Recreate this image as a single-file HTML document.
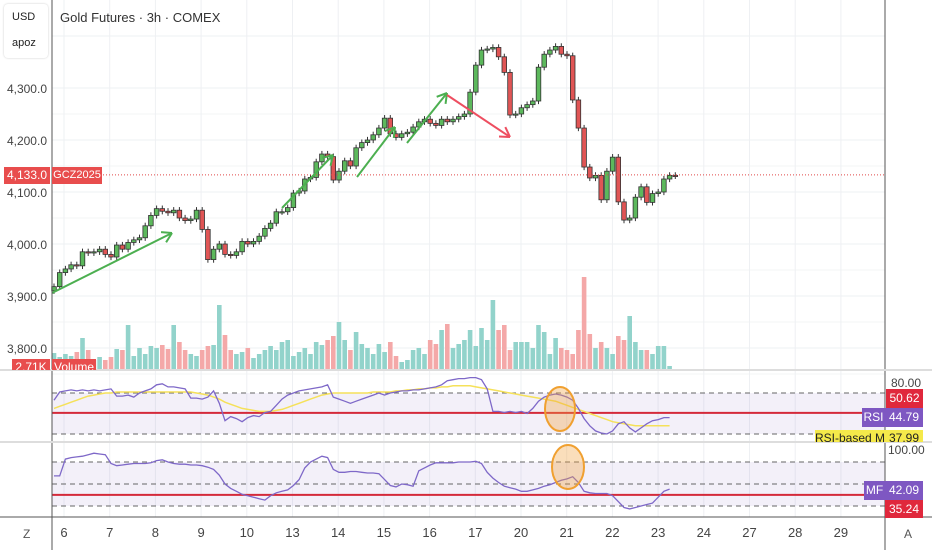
<!DOCTYPE html>
<html><head><meta charset="utf-8"><style>
body{margin:0;background:#fff;font-family:"Liberation Sans",sans-serif;}
svg{display:block}
text{font-family:"Liberation Sans",sans-serif;}
</style></head><body>
<svg id="c" width="932" height="550" viewBox="0 0 932 550">
<g id="grid"></g>
<g id="bands"></g>
<g id="vol"></g>
<g id="candles"></g>
<g id="ind"></g>
<g id="draw"></g>
<g id="axes"></g>
</svg>
<script>
const closes=[3918,3945,3952,3960,3958,3985,3983,3985,
3990,3980,3975,3998,3990,4003,4008,4012,
4035,4055,4068,4063,4060,4065,4050,4045,
4048,4065,4028,3970,3990,4000,3980,3978,
3985,4005,4000,4005,4015,4030,4040,4062,
4062,4070,4098,4102,4125,4128,4158,4173,
4168,4123,4140,4160,4150,4185,4195,4200,
4210,4223,4242,4212,4205,4212,4215,4225,
4235,4240,4232,4228,4240,4235,4240,4245,
4250,4292,4344,4373,4375,4378,4360,4330,
4248,4250,4262,4268,4275,4340,4365,4373,
4380,4365,4362,4277,4223,4148,4127,4132,
4085,4140,4167,4081,4046,4050,4090,4110,
4080,4097,4100,4125,4132,4131];
const volumes=[17,13,16,14,18,32,20,10,13,10,13,21,20,45,14,22,16,24,22,25,21,45,28,20,16,14,20,24,25,65,35,20,16,18,22,12,16,20,24,20,28,30,14,18,22,16,28,25,30,34,48,30,20,38,26,22,16,26,18,28,14,8,10,20,22,16,30,26,40,46,22,26,30,40,24,42,30,70,40,45,20,28,28,28,22,45,38,16,32,22,20,16,40,93,36,22,28,22,16,34,30,54,28,20,20,16,24,24,4];
const rsi=[63,71,72,73,72,73,72,73,72,73,74,67,67,68,66,70,72,74,78,79,76,76,75,74,65,65,64,66,72,60,43,47,45,42,46,48,47,51,52,58,64,68,70,72,73,74,75,76,78,66,64,62,60,62,64,66,68,70,68,70,71,72,72,73,73,74,75,76,78,82,83,84,84,85,85,83,74,52,52,51,52,51,52,50,55,62,66,68,69,68,66,63,55,45,38,33,31,30,33,40,42,36,32,36,40,43,44,46,46];
const rsiMa=[55,57,59,61,63,65,67,68,69,70,70,71,71,71,71,71,71,71,71,71,71,71,71,71,71,70,69,68,66,64,61,59,57,55,54,53,52,52,52,53,54,56,58,60,62,64,66,68,69,70,70,70,70,70,70,70,71,71,71,71,72,72,73,73,74,74,75,75,76,76,77,77,77,77,76,75,74,73,72,71,70,69,68,67,66,65,64,63,62,60,58,56,54,52,50,48,46,44,42,41,40,39,38,38,38,38,38,38,38];
const mf=[61,61,84,86,87,88,90,92,91,90,78,75,76,77,78,78,78,79,82,83,80,78,77,77,76,76,75,73,70,62,50,44,40,36,34,32,30,28,34,38,40,42,48,56,72,80,84,88,86,70,66,66,67,67,66,65,65,64,56,48,46,50,49,47,68,72,76,79,79,79,79,80,80,80,81,78,66,58,52,47,45,43,40,40,42,44,47,49,52,55,57,60,52,40,38,37,37,37,34,26,18,16,18,20,22,24,32,40,43];
const priceTicks=[4300,4200,4100,4000,3900,3800];
const priceLabels=["4,300.0","4,200.0","4,100.0","4,000.0","3,900.0","3,800.0"];
const dayLabels=["6","7","8","9","10","13","14","15","16","17","20","21","22","23","24","27","28","29"];
const lastPrice=4133;

const NS="http://www.w3.org/2000/svg";
function el(p,t,a,txt){const e=document.createElementNS(NS,t);for(const k in a)e.setAttribute(k,a[k]);if(txt!==undefined)e.textContent=txt;document.getElementById(p).appendChild(e);return e;}
const X0=52,X1=885;
const bx=i=>54+i*5.7;
const py=p=>88+(4300-p)*0.52;
const ry=v=>434-(v-30)*1.025;
const my=v=>506-(v-20)*0.733;
const dx=i=>64+i*45.7;

priceTicks.forEach(p=>{const l=el('grid','line',{x1:X0,x2:X1,y1:py(p),y2:py(p),stroke:'#eef0f3'});


const m=el('grid','line',{x1:X0,x2:X1,y1:py(p)+26,y2:py(p)+26,stroke:'#f3f4f6'});

});
el('grid','line',{x1:X0,x2:X1,y1:36,y2:36,stroke:'#eef0f3'});
dayLabels.forEach((d,i)=>{const l=el('grid','line',{x1:dx(i),x2:dx(i),y1:0,y2:517,stroke:'#eef0f3'});

});
el('bands','rect',{x:X0,y:ry(70),width:X1-X0,height:ry(30)-ry(70),fill:'rgba(126,87,194,0.09)'});
el('bands','rect',{x:X0,y:my(80),width:X1-X0,height:my(20)-my(80),fill:'rgba(126,87,194,0.09)'});
[[ry(70)],[ry(30)],[my(80)],[my(50)],[my(20)]].forEach(([y])=>{const l=el('bands','line',{x1:X0,x2:X1,y1:y,y2:y,stroke:'#666','stroke-dasharray':'5,4','stroke-width':1});

});
const vmax=Math.max(...volumes);
volumes.forEach((v,i)=>{const up=i===0||closes[i]>=closes[i-1];const h=v/vmax*93;
const r=el('vol','rect',{x:bx(i)-2.3,y:370-h,width:4.6,height:h,fill:up?'#92d3cb':'#f4a8a8'});

});
closes.forEach((c,i)=>{const o=i===0?c-8:closes[i-1];const up=c>=o;const hi=Math.max(o,c)+6,lo=Math.min(o,c)-6;
const w=el('candles','line',{x1:bx(i),x2:bx(i),y1:py(hi),y2:py(lo),stroke:'#333','stroke-width':1});


const top=py(Math.max(o,c)),hh=Math.max(1.2,py(Math.min(o,c))-top);
const b=el('candles','rect',{x:bx(i)-2.3,y:top,width:4.6,height:hh,fill:up?'#5cb85c':'#e05555',stroke:'#333','stroke-width':0.8});

});
el('candles','line',{x1:X0,x2:X1,y1:py(lastPrice),y2:py(lastPrice),stroke:'#e04848','stroke-dasharray':'1,2','stroke-width':1});
const pl=(arr,f)=>arr.map((v,i)=>bx(i).toFixed(1)+','+f(v).toFixed(1)).join(' ');
el('ind','line',{x1:X0,x2:X1,y1:ry(50.62),y2:ry(50.62),stroke:'#d42a3a','stroke-width':2});
el('ind','line',{x1:X0,x2:X1,y1:my(35.24),y2:my(35.24),stroke:'#d42a3a','stroke-width':2});
const ma=el('ind','polyline',{points:pl(rsiMa,ry),fill:'none',stroke:'#f5e15a','stroke-width':1.5});


const rl=el('ind','polyline',{points:pl(rsi,ry),fill:'none',stroke:'#7e68c8','stroke-width':1.3});


const ml=el('ind','polyline',{points:pl(mf,my),fill:'none',stroke:'#7e68c8','stroke-width':1.3});


const arrows=[[52,293,172,233,'#4caf50'],[282,208,333,155,'#4caf50'],[357,177,395,127,'#4caf50'],[407,143,447,93,'#4caf50'],[447,95,510,137,'#ee4e60']];
arrows.forEach(a=>{const [x1,y1,x2,y2,c]=a;const l=el('draw','line',{x1,y1,x2,y2,stroke:c,'stroke-width':2});


const ang=Math.atan2(y2-y1,x2-x1);const L=11;
[ang+2.6,ang-2.6].forEach(t=>{el('draw','line',{x1:x2,y1:y2,x2:x2+L*Math.cos(t),y2:y2+L*Math.sin(t),stroke:c,'stroke-width':2});});});
[[560,409,15,22],[568,467,16,22]].forEach(e=>{const o=el('draw','ellipse',{cx:e[0],cy:e[1],rx:e[2],ry:e[3],fill:'rgba(240,160,60,0.35)',stroke:'#f0a030','stroke-width':2});

});
el('axes','line',{x1:X0,x2:X0,y1:0,y2:550,stroke:'#555'});
el('axes','line',{x1:X1,x2:X1,y1:0,y2:550,stroke:'#555'});
el('axes','line',{x1:0,x2:932,y1:370,y2:370,stroke:'#ddd','stroke-width':2});
el('axes','line',{x1:0,x2:932,y1:442,y2:442,stroke:'#ddd','stroke-width':2});
el('axes','line',{x1:0,x2:932,y1:517,y2:517,stroke:'#555'});
priceTicks.forEach((p,i)=>{const t=el('axes','text',{x:47,y:py(p)+5,'text-anchor':'end','font-size':12,fill:'#444'},priceLabels[i]);

});
dayLabels.forEach((d,i)=>{const t=el('axes','text',{x:dx(i),y:537,'text-anchor':'middle','font-size':13,fill:'#444'},d);

});
</script>
<div style="position:absolute;left:4px;top:4px;width:44px;height:54px;border-radius:4px;background:#fff;box-shadow:0 0 2px #ccc;font-size:11px;color:#222;line-height:26px;padding-left:8px;box-sizing:border-box">USD<br>apoz</div>
<div style="position:absolute;left:60px;top:10px;font-size:13px;color:#333">Gold Futures · 3h · COMEX</div>
<div style="position:absolute;left:4px;top:167px;width:46px;height:17px;background:#e84d4d;color:#fff;font-size:12px;line-height:17px;text-align:center">4,133.0</div>
<div style="position:absolute;left:52px;top:167px;width:50px;height:17px;background:#e84d4d;color:#fff;font-size:11px;line-height:17px;text-align:center;white-space:nowrap;overflow:hidden">GCZ2025</div>
<div style="position:absolute;left:12px;top:358px;width:86px;height:12px;overflow:hidden;white-space:nowrap"><span style="display:inline-block;width:38px;text-align:center;background:#e84d4d;color:#fff;font-size:12px;line-height:16px">2.71K</span><span style="display:inline-block;width:44px;text-align:center;background:#e84d4d;color:#fff;font-size:12px;line-height:16px;margin-left:2px">Volume</span></div>
<div style="position:absolute;left:891px;top:376px;font-size:12px;color:#444">80.00</div>
<div style="position:absolute;left:886px;top:389px;width:37px;height:19px;background:#e0283c;color:#fff;font-size:12px;line-height:19px;text-align:center">50.62</div>
<div style="position:absolute;left:862px;top:408px;width:23px;height:19px;background:#7e57c2;color:#fff;font-size:12px;line-height:19px;text-align:center">RSI</div>
<div style="position:absolute;left:885px;top:408px;width:38px;height:19px;background:#7e57c2;color:#fff;font-size:12px;line-height:19px;text-align:center">44.79</div>
<div style="position:absolute;left:815px;top:430px;width:70px;height:12px;overflow:hidden;background:#f5e94a;color:#222;font-size:12px;line-height:16px;text-align:center;white-space:nowrap">RSI-based MA</div>
<div style="position:absolute;left:885px;top:430px;width:38px;height:12px;overflow:hidden;background:#f5e94a;color:#222;font-size:12px;line-height:16px;text-align:center">37.99</div>
<div style="position:absolute;left:888px;top:443px;font-size:12px;color:#444">100.00</div>
<div style="position:absolute;left:864px;top:481px;width:21px;height:19px;background:#7e57c2;color:#fff;font-size:12px;line-height:19px;text-align:center">MF</div>
<div style="position:absolute;left:885px;top:481px;width:38px;height:19px;background:#7e57c2;color:#fff;font-size:12px;line-height:19px;text-align:center">42.09</div>
<div style="position:absolute;left:885px;top:500px;width:38px;height:18px;background:#e0283c;color:#fff;font-size:12px;line-height:18px;text-align:center">35.24</div>
<div style="position:absolute;left:23px;top:527px;font-size:12px;color:#555">Z</div>
<div style="position:absolute;left:904px;top:527px;font-size:12px;color:#555">A</div>
</body></html>
